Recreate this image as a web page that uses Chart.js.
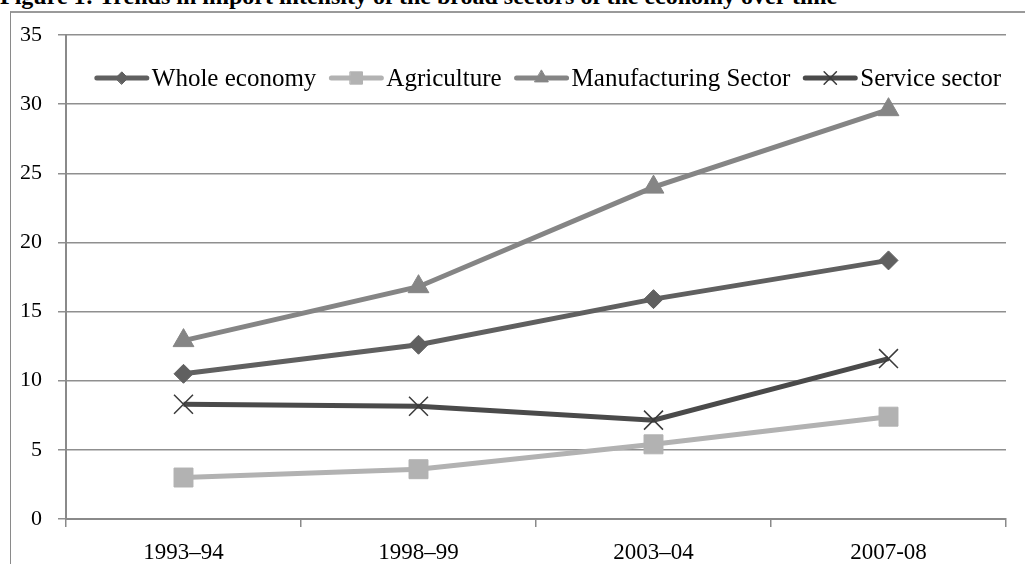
<html lang="en">
<head>
  <meta charset="UTF-8">
  <title>Figure 1</title>
  <script src="https://cdn.jsdelivr.net/npm/chart.js@4.4.1/dist/chart.umd.min.js"></script>
  <style>
    body { margin: 0; background: #fff; overflow: hidden; }
    #title {
      position: absolute; left: 0; top: -16px; white-space: nowrap;
      font: bold 24px "Liberation Serif", serif; line-height: 24px; color: #000;
    }
    #frame {
      position: absolute; left: 10px; top: 11px; width: 1100px; height: 600px;
      border-left: 1.5px solid #8a8a8a; border-top: 2px solid #9a9a9a;
    }
    #wrap { position: absolute; left: 0; top: 0; width: 1025px; height: 564px; }
  </style>
</head>
<body>
<div id="frame"></div>
<div id="title">Figure 1: Trends in import intensity of the broad sectors of the economy over time</div>
<div id="wrap"><canvas id="chart"></canvas></div>
<script>
  // values
  const periods = ['1993–94', '1998–99', '2003–04', '2007-08'];
  const wholeEconomy = [10.5, 12.6, 15.9, 18.7];
  const agriculture = [3.0, 3.6, 5.4, 7.4];
  const manufacturing = [12.9, 16.8, 24.0, 29.6];
  const services = [8.3, 8.15, 7.15, 11.6];
  const yTicks = [0, 5, 10, 15, 20, 25, 30, 35];

  const serif = '"Liberation Serif", serif';

  function series(label, data, color, style, radius, extra) {
    return Object.assign({
      label: label,
      data: data,
      borderColor: color,
      backgroundColor: color,
      borderWidth: 5,
      pointStyle: style,
      pointRadius: radius,
      pointHoverRadius: radius,
      pointBorderWidth: 1,
      pointBorderColor: color,
      pointBackgroundColor: color,
      tension: 0
    }, extra || {});
  }

  // legend drawn inside the plot area, like the original
  const insideLegend = {
    id: 'insideLegend',
    afterDraw(chart) {
      const ctx = chart.ctx;
      const y = 78, lineLen = 54, gap = 3, itemGap = 13;
      ctx.save();
      ctx.font = '25px ' + serif;
      const items = chart.data.datasets.map(ds => ({ ds, w: ctx.measureText(ds.label).width }));
      const total = items.reduce((s, it) => s + lineLen + gap + it.w, 0) + itemGap * (items.length - 1);
      let x = 548 - total / 2;
      items.forEach(it => {
        const ds = it.ds;
        ctx.strokeStyle = ds.borderColor;
        ctx.lineWidth = 5;
        ctx.lineCap = 'round';
        ctx.beginPath();
        ctx.moveTo(x + 2, y);
        ctx.lineTo(x + lineLen - 2, y);
        ctx.stroke();
        if (Chart.helpers && Chart.helpers.drawPoint) {
          ctx.fillStyle = ds.pointBackgroundColor;
          ctx.strokeStyle = ds.pointBorderColor;
          ctx.lineWidth = ds.pointBorderWidth;
          Chart.helpers.drawPoint(ctx, {
            pointStyle: ds.pointStyle,
            radius: ds.pointRadius * 0.65,
            borderWidth: ds.pointBorderWidth,
            rotation: 0
          }, x + lineLen / 2, y);
        }
        ctx.fillStyle = '#000';
        ctx.textBaseline = 'middle';
        ctx.textAlign = 'left';
        ctx.fillText(ds.label, x + lineLen + gap, y + 1);
        x += lineLen + gap + it.w + itemGap;
      });
      ctx.restore();
    }
  };

  new Chart(document.getElementById('chart'), {
    type: 'line',
    data: {
      labels: periods,
      datasets: [
        series('Whole economy', wholeEconomy, '#606060', 'rectRot', 9.5),
        series('Agriculture', agriculture, '#b2b2b2', 'rect', 13.4),
        series('Manufacturing Sector', manufacturing, '#858585', 'triangle', 12),
        series('Service sector', services, '#4a4a4a', 'crossRot', 13.4,
          { pointBorderWidth: 1.5, pointBorderColor: '#3a3a3a' })
      ]
    },
    options: {
      responsive: true,
      maintainAspectRatio: false,
      animation: false,
      layout: { padding: { left: 0, top: 35, right: 19, bottom: 0 } },
      plugins: {
        legend: { display: false },
        tooltip: { enabled: false }
      },
      scales: {
        x: {
          offset: true,
          grid: { offset: true, drawOnChartArea: false, drawTicks: true, tickLength: 8, color: '#8a8a8a', lineWidth: 1.5 },
          border: { display: true, color: '#8a8a8a', width: 2 },
          ticks: { color: '#000', font: { family: serif, size: 23 }, padding: 12, maxRotation: 0 },
          afterFit(scale) { scale.height = 45; }
        },
        y: {
          min: 0,
          max: 35,
          afterBuildTicks(scale) { scale.ticks = yTicks.map(v => ({ value: v })); },
          grid: { color: '#8f8f8f', lineWidth: 1.5, tickLength: 8 },
          border: { display: true, color: '#8a8a8a', width: 2 },
          ticks: { color: '#000', font: { family: serif, size: 22 }, padding: 16 },
          afterFit(scale) { scale.width = 66; }
        }
      }
    },
    plugins: [insideLegend]
  });
</script>
</body>
</html>
